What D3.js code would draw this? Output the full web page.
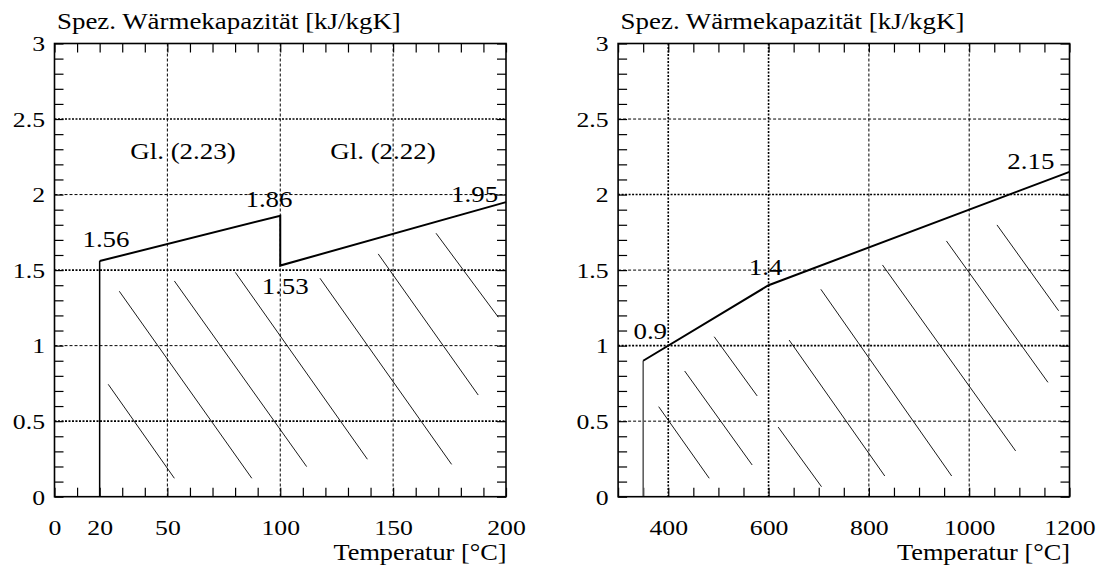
<!DOCTYPE html>
<html>
<head>
<meta charset="utf-8">
<script src="https://cdn.jsdelivr.net/npm/d3@7"></script>
<style>
  body { margin: 0; background: #fff; }
</style>
</head>
<body>
<script>
// --- data ---
const yLabels = [0, 0.5, 1, 1.5, 2, 2.5, 3];
const yGrid = [0.5, 1, 1.5, 2, 2.5];

// left panel: 20 .. 200 °C
const leftXLabels = [0, 20, 50, 100, 150, 200];
const leftXGrid = [50, 100, 150];
const leftTemp = [20, 20, 100, 100, 200];
const leftCp = [0, 1.56, 1.86, 1.53, 1.95];
const leftNotes = [
  { t: 22.8, v: 1.652, text: "1.56" },
  { t: 95.0, v: 1.92, text: "1.86" },
  { t: 102.2, v: 1.342, text: "1.53" },
  { t: 186.1, v: 1.953, text: "1.95" },
  { t: 56.9, v: 2.234, text: "Gl. (2.23)" },
  { t: 145.5, v: 2.234, text: "Gl. (2.22)" }
];
// hatch strokes [t1, v1, t2, v2]
const leftHatch = [
  [23.8, 0.744, 53.1, 0.122],
  [28.7, 1.36, 87.4, 0.122],
  [53.1, 1.428, 111.7, 0.199],
  [80.1, 1.485, 138.6, 0.248],
  [117.6, 1.446, 175.9, 0.214],
  [143.4, 1.607, 187.7, 0.673],
  [169.0, 1.744, 196.6, 1.188]
];

// right panel: 350 .. 1200 °C
const rightXLabels = [400, 600, 800, 1000, 1200];
const rightXGrid = [400, 600, 800, 1000];
const rightTemp = [350, 350, 600, 1200];
const rightCp = [0, 0.9, 1.4, 2.15];
const rightNotes = [
  { t: 364.1, v: 1.042, text: "0.9" },
  { t: 594.2, v: 1.468, text: "1.4" },
  { t: 1122.9, v: 2.167, text: "2.15" }
];
const rightHatch = [
  [380.9, 0.596, 481.7, 0.122],
  [432.7, 0.832, 567.3, 0.21],
  [491.6, 1.059, 577.3, 0.667],
  [619.1, 0.461, 705.6, 0.066],
  [641.0, 1.037, 831.7, 0.137],
  [704.2, 1.373, 965.1, 0.137],
  [827.1, 1.534, 1092.6, 0.303],
  [954.6, 1.693, 1157.0, 0.757],
  [1055.4, 1.799, 1178.3, 1.231]
];

const yTitle = "Spez. Wärmekapazität [kJ/kgK]";
const xTitle = "Temperatur [°C]";

// --- drawing ---
const FONT = "'Liberation Serif', 'Nimbus Roman', 'DejaVu Serif', serif";
const SX = 1.17; // glyphs in the original are a bit stretched sideways
const plotTop = 43.5, plotBottom = 496.7;

const svg = d3.select("body").append("svg")
    .attr("width", 1099)
    .attr("height", 565);

const y = d3.scaleLinear().domain([0, 3]).range([plotBottom, plotTop]);

function stretchText(sel, dx, dyPx) {
  sel.attr("x", 0).attr("y", 0).attr("dy", null)
     .attr("transform", `translate(${dx},${dyPx}) scale(${SX},1)`);
}

function panel(cfg) {
  const x = d3.scaleLinear().domain(cfg.domain).range(cfg.range);
  const [x0, x1] = cfg.range;
  const g = svg.append("g");

  // grid
  g.selectAll(".gx").data(cfg.xGrid).enter().append("line")
    .attr("x1", d => x(d)).attr("x2", d => x(d))
    .attr("y1", plotTop).attr("y2", plotBottom)
    .attr("stroke", "#000")
    .attr("stroke-width", d => cfg.heavyX.includes(d) ? 1.6 : 1)
    .attr("stroke-dasharray", d => cfg.heavyX.includes(d) ? "2,1.5" : "3,2");
  g.selectAll(".gy").data(yGrid).enter().append("line")
    .attr("x1", x0).attr("x2", x1)
    .attr("y1", d => y(d)).attr("y2", d => y(d))
    .attr("stroke", "#000")
    .attr("stroke-width", d => cfg.heavyY.includes(d) ? 1.6 : 1)
    .attr("stroke-dasharray", d => cfg.heavyY.includes(d) ? "2,1.5" : "3,2");

  // minor ticks on all four sides
  const xm = d3.range(cfg.domain[0], cfg.domain[1] + 1e-9, cfg.minorX);
  const ym = d3.range(0, 3.0001, 0.1);
  const tickStyle = a => { a.select(".domain").remove(); a.selectAll("line").attr("stroke-width", 1.2); };
  g.append("g").attr("transform", `translate(0,${plotBottom})`)
    .call(d3.axisBottom(x).tickValues(xm).tickSize(-9).tickFormat("")).call(tickStyle);
  g.append("g").attr("transform", `translate(0,${plotTop})`)
    .call(d3.axisTop(x).tickValues(xm).tickSize(-9).tickFormat("")).call(tickStyle);
  g.append("g").attr("transform", `translate(${x0},0)`)
    .call(d3.axisLeft(y).tickValues(ym).tickSize(-9).tickFormat("")).call(tickStyle);
  g.append("g").attr("transform", `translate(${x1},0)`)
    .call(d3.axisRight(y).tickValues(ym).tickSize(-9).tickFormat("")).call(tickStyle);

  // tick labels
  const xa = g.append("g").attr("transform", `translate(0,${plotBottom})`)
    .call(d3.axisBottom(x).tickValues(cfg.xLabels).tickSize(0).tickFormat(d => String(d)));
  xa.select(".domain").remove();
  xa.attr("font-family", FONT);
  xa.selectAll("text").style("font-family", FONT).style("font-size", "22px").call(stretchText, 0, 37.8);
  const ya = g.append("g").attr("transform", `translate(${x0},0)`)
    .call(d3.axisLeft(y).tickValues(yLabels).tickSize(0).tickFormat(d => String(d)));
  ya.select(".domain").remove();
  ya.attr("font-family", FONT);
  ya.selectAll("text").style("font-family", FONT).style("font-size", "22px")
    .attr("text-anchor", "end").call(stretchText, -9.5, 7.3);

  // hatch
  g.selectAll(".hatch").data(cfg.hatch).enter().append("line")
    .attr("x1", d => x(d[0])).attr("y1", d => y(d[1]))
    .attr("x2", d => x(d[2])).attr("y2", d => y(d[3]))
    .attr("stroke", "#000").attr("stroke-width", 0.9);

  // curve
  const pts = cfg.temp.map((t, i) => [t, cfg.cp[i]]);
  g.append("line")
    .attr("x1", x(pts[0][0])).attr("y1", y(pts[0][1]))
    .attr("x2", x(pts[1][0])).attr("y2", y(pts[1][1]))
    .attr("stroke", cfg.riseColor).attr("stroke-width", 1.5);
  g.append("path")
    .datum(pts.slice(1))
    .attr("fill", "none").attr("stroke", "#000").attr("stroke-width", 2)
    .attr("d", d3.line().x(d => x(d[0])).y(d => y(d[1])));

  // frame
  g.append("rect").attr("x", x0).attr("y", plotTop)
    .attr("width", x1 - x0).attr("height", plotBottom - plotTop)
    .attr("fill", "none").attr("stroke", "#000").attr("stroke-width", 1.6);

  // annotations
  g.selectAll(".note").data(cfg.notes).enter().append("text")
    .attr("text-anchor", "middle")
    .style("font-family", FONT).style("font-size", "23px")
    .attr("transform", d => `translate(${x(d.t)},${y(d.v)}) scale(${SX},1)`)
    .text(d => d.text);

  // titles
  g.append("text").attr("text-anchor", "start")
    .style("font-family", FONT).style("font-size", "23px")
    .attr("transform", `translate(${x0 + 2.5},28.5) scale(${SX},1)`).text(yTitle);
  g.append("text").attr("text-anchor", "end")
    .style("font-family", FONT).style("font-size", "22.5px")
    .attr("transform", `translate(${x1 + 0.5},559.5) scale(${SX},1)`).text(xTitle);
}

panel({
  domain: [0, 200], range: [54.5, 506], minorX: 10,
  xLabels: leftXLabels, xGrid: leftXGrid, heavyX: [], heavyY: [0.5, 1.5, 2.5],
  temp: leftTemp, cp: leftCp, notes: leftNotes, hatch: leftHatch, riseColor: "#000"
});
panel({
  domain: [300, 1200], range: [618.1, 1069.5], minorX: 50,
  xLabels: rightXLabels, xGrid: rightXGrid, heavyX: [400, 600], heavyY: [1, 2],
  temp: rightTemp, cp: rightCp, notes: rightNotes, hatch: rightHatch, riseColor: "#555"
});
</script>
</body>
</html>
